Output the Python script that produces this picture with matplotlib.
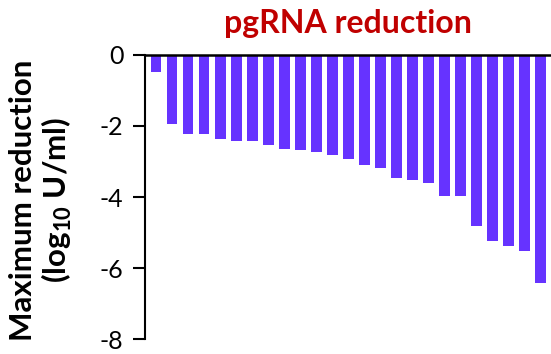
import matplotlib.pyplot as plt

# log10 reduction per sample
reduction = [-0.47, -1.95, -2.22, -2.22, -2.38, -2.43, -2.43, -2.55, -2.64,
             -2.69, -2.74, -2.83, -2.93, -3.10, -3.19, -3.46, -3.51, -3.62,
             -3.96, -3.96, -4.81, -5.25, -5.39, -5.53, -6.43]
y_ticks = [0, -2, -4, -6, -8]

plt.rcParams['font.family'] = ['Lato', 'DejaVu Sans']
plt.rcParams['mathtext.fontset'] = 'custom'
plt.rcParams['mathtext.rm'] = 'Lato:bold'
plt.rcParams['mathtext.bf'] = 'Lato:bold'

fig = plt.figure(figsize=(5.51, 3.54), dpi=100)
ax = fig.add_axes([0.263, 0.042, 0.737, 0.803])

ax.bar(range(len(reduction)), reduction, width=0.66, color='#6633FF')

ax.set_xlim(-0.7, len(reduction) - 0.36)
ax.set_ylim(-8, 0)
ax.set_yticks(y_ticks)
ax.set_yticklabels([str(t) for t in y_ticks])
ax.set_xticks([])

for side in ['right', 'bottom']:
    ax.spines[side].set_visible(False)
ax.spines['left'].set_linewidth(1.5)
ax.spines['top'].set_linewidth(1.8)
ax.tick_params(axis='y', length=8.5, width=1.5, pad=7, labelsize=18)

ax.set_title("pgRNA reduction", color='#C00000', fontsize=23,
             fontweight='bold', pad=16)
ax.set_ylabel("Maximum reduction\n(log$_{10}$ U/ml)", fontsize=22.5,
              fontweight='bold', linespacing=1.12)
ax.yaxis.set_label_coords(-0.175, 0.49)

fig.savefig('out.png', dpi=100)
